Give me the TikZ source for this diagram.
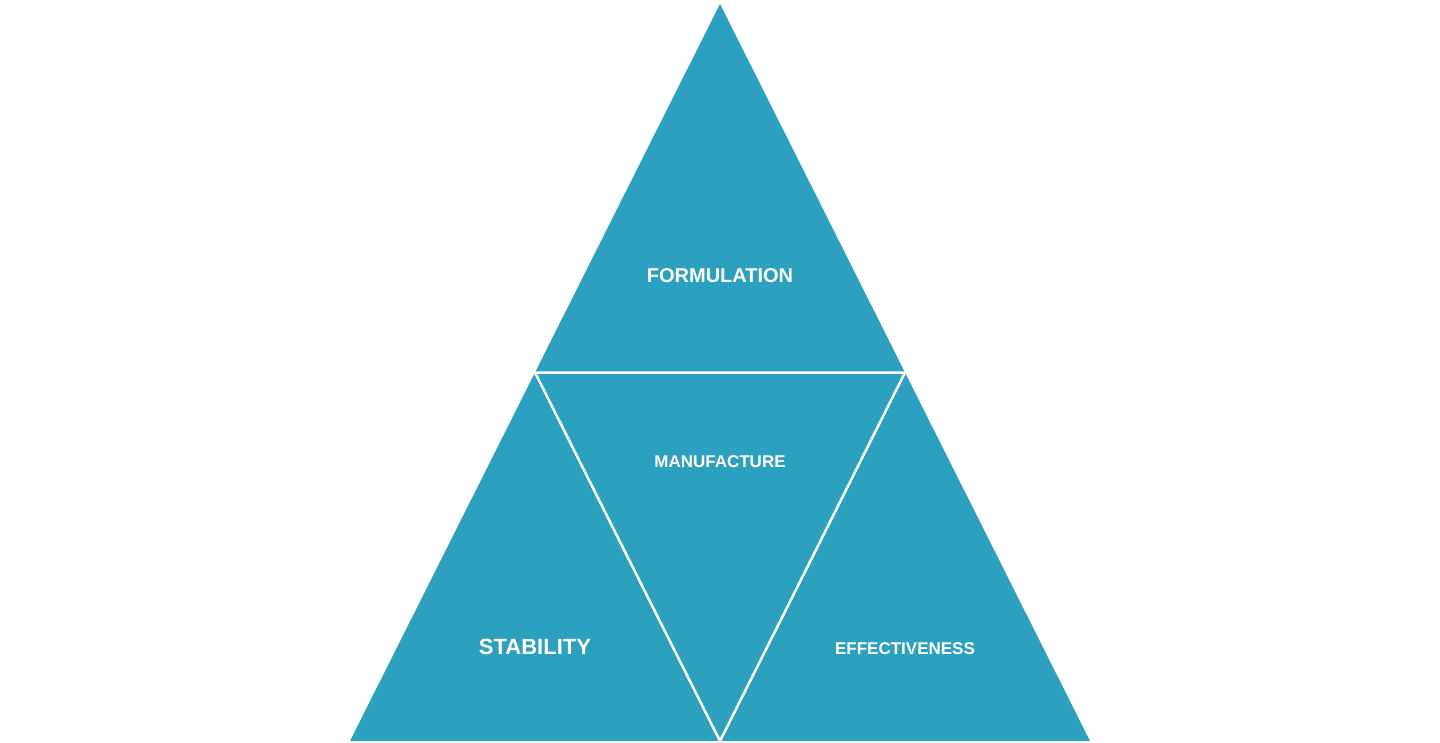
\documentclass[tikz,border=0pt]{standalone}
\usepackage{fontspec}
\setmainfont{Liberation Sans}
\definecolor{tri}{HTML}{2CA0BF}
\begin{document}
\begin{tikzpicture}[x=1pt,y=-1pt,
  piece/.style={fill=tri,draw=white,line width=2.5pt,line join=miter},
  lbl/.style={text=white,font=\bfseries,inner sep=0pt}]
\useasboundingbox (0,0) rectangle (1440,743);
\coordinate (A) at (720,4);
\coordinate (L) at (350,741);
\coordinate (R) at (1090,741);
\coordinate (ML) at (535,372.5);
\coordinate (MR) at (905,372.5);
\coordinate (MB) at (720,741);
\fill[tri] (A) -- (L) -- (R) -- cycle;
\draw[white,line width=2.5pt] (ML) -- (MR) -- (MB) -- cycle;
\node[lbl,font=\bfseries\fontsize{20}{24}\selectfont] (f) at (720,276) {FORMULATION};
\node[lbl,font=\bfseries\fontsize{17}{20}\selectfont] (m) at (720,462) {MANUFACTURE};
\node[lbl,font=\bfseries\fontsize{22}{26}\selectfont] (s) at (535,647) {STABILITY};
\node[lbl,font=\bfseries\fontsize{17}{20}\selectfont] (e) at (905,649) {EFFECTIVENESS};
\end{tikzpicture}
\end{document}
